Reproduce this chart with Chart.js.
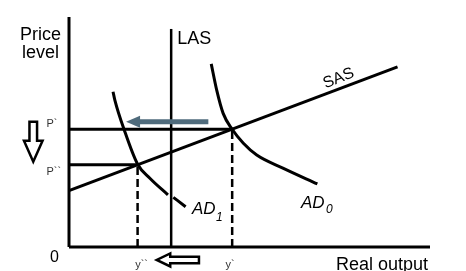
<!DOCTYPE html>
<html>
<head>
<meta charset="utf-8">
<script src="https://cdn.jsdelivr.net/npm/chart.js@4/dist/chart.umd.min.js"></script>
<style>
  body { margin: 0; background: #fff; }
  canvas { display: block; }
</style>
</head>
<body>
<canvas id="grafico" width="466" height="271"></canvas>
<script>
// plot extent (arbitrary units)
const xMax = 100;
const yMax = 100;

// long run supply
const lasX = 28.3;
const lasTop = 94.8;

// equilibria: y` / P` before, y`` / P`` after the shift
const yOne = 45.2, pOne = 51.2;
const yTwo = 19.0, pTwo = 35.8;

// short run supply
const sasX = [0, 91];
const sasY = [24.5, 78.3];

// aggregate demand curves (AD1 is broken where it crosses LAS)
const ad0X = [39.4, 40.9, 42.7, 45.2, 48.3, 52.0, 59.4, 68.8];
const ad0Y = [79.6, 68.3, 58.1, 51.2, 45.1, 40.0, 34.2, 27.4];
const ad1X = [12.2, 12.7, 15.3, 19.0, 22.4, 27.4, null, 28.9, 32.3];
const ad1Y = [67.5, 63.9, 50.9, 36.0, 29.9, 22.7, null, 21.6, 17.5];

// arrows: demand shift, price fall, output fall
const shiftArrow = { x: [38.6, 15.8], y: [54.5, 54.5] };
const priceArrow = { x: [-9.9, -9.9], y: [54.5, 37.1] };
const outputArrow = { x: [36.0, 24.3], y: [-5.65, -5.65] };

function zip(xs, ys) {
  return xs.map((x, i) => (x === null ? { x: null, y: null } : { x: x, y: ys[i] }));
}

function linha(pontos, extra) {
  return Object.assign({
    data: pontos,
    showLine: true,
    borderColor: "#000",
    borderWidth: 3,
    pointRadius: 0,
    fill: false,
    clip: false,
    spanGaps: false,
    tension: 0
  }, extra || {});
}

const datasets = [
  linha([{ x: 0, y: 0 }, { x: 0, y: yMax }]),
  linha([{ x: 0, y: 0 }, { x: xMax, y: 0 }]),
  linha([{ x: lasX, y: 0 }, { x: lasX, y: lasTop }], { borderWidth: 2.5 }),
  linha([{ x: 0, y: pOne }, { x: yOne, y: pOne }]),
  linha([{ x: 0, y: pTwo }, { x: yTwo, y: pTwo }]),
  linha([{ x: yOne, y: 0 }, { x: yOne, y: pOne }], { borderDash: [8, 4], borderWidth: 2.5 }),
  linha([{ x: yTwo, y: 0 }, { x: yTwo, y: pTwo }], { borderDash: [8, 4], borderWidth: 2.5 }),
  linha(zip(sasX, sasY)),
  linha(zip(ad0X, ad0Y), { cubicInterpolationMode: "monotone" }),
  linha(zip(ad1X, ad1Y), { cubicInterpolationMode: "monotone" })
];

function setaVazada(ctx, sx, sy, tx, ty, meia, cabeca, comp) {
  const dx = tx - sx, dy = ty - sy;
  const len = Math.hypot(dx, dy);
  const ux = dx / len, uy = dy / len;
  const nx = -uy, ny = ux;
  const bx = tx - ux * comp, by = ty - uy * comp;
  ctx.beginPath();
  ctx.moveTo(sx + nx * meia, sy + ny * meia);
  ctx.lineTo(bx + nx * meia, by + ny * meia);
  ctx.lineTo(bx + nx * cabeca, by + ny * cabeca);
  ctx.lineTo(tx, ty);
  ctx.lineTo(bx - nx * cabeca, by - ny * cabeca);
  ctx.lineTo(bx - nx * meia, by - ny * meia);
  ctx.lineTo(sx - nx * meia, sy - ny * meia);
  ctx.closePath();
  ctx.fillStyle = "#fff";
  ctx.fill();
  ctx.lineWidth = 2.5;
  ctx.strokeStyle = "#000";
  ctx.stroke();
}

const desenhos = {
  id: "desenhos",
  afterDatasetsDraw(chart) {
    const ctx = chart.ctx;
    const xs = chart.scales.x, ys = chart.scales.y;
    const px = v => xs.getPixelForValue(v);
    const py = v => ys.getPixelForValue(v);
    ctx.save();

    // blue shift arrow
    const sx = px(shiftArrow.x[0]), tx = px(shiftArrow.x[1]), ay = py(shiftArrow.y[0]);
    ctx.strokeStyle = "#4f6b7c";
    ctx.fillStyle = "#4f6b7c";
    ctx.lineWidth = 5;
    ctx.beginPath();
    ctx.moveTo(sx, ay);
    ctx.lineTo(tx + 12, ay);
    ctx.stroke();
    ctx.beginPath();
    ctx.moveTo(tx, ay);
    ctx.lineTo(tx + 14, ay - 6);
    ctx.lineTo(tx + 14, ay + 6);
    ctx.closePath();
    ctx.fill();

    setaVazada(ctx, px(priceArrow.x[0]), py(priceArrow.y[0]), px(priceArrow.x[1]), py(priceArrow.y[1]), 3.8, 9.3, 21);
    setaVazada(ctx, px(outputArrow.x[0]), py(outputArrow.y[0]), px(outputArrow.x[1]), py(outputArrow.y[1]), 3.3, 6.5, 13.5);

    // texts
    ctx.fillStyle = "#000";
    ctx.textBaseline = "alphabetic";
    ctx.font = "18px 'Liberation Sans', Arial, sans-serif";
    ctx.textAlign = "center";
    ctx.fillText("Price", 40.5, 40);
    ctx.fillText("level", 40.5, 58);
    ctx.textAlign = "left";
    ctx.fillText("LAS", px(lasX) + 6, 44);
    ctx.fillText("Real output", 336, 269.5);
    ctx.font = "16px 'Liberation Sans', Arial, sans-serif";
    ctx.fillText("0", 50, 261.5);

    ctx.save();
    ctx.translate(338, 77);
    ctx.rotate(-22 * Math.PI / 180);
    ctx.textAlign = "center";
    ctx.font = "16px 'Liberation Sans', Arial, sans-serif";
    ctx.fillText("SAS", 0, 6);
    ctx.restore();

    ctx.font = "italic 17px 'Liberation Sans', Arial, sans-serif";
    ctx.fillText("AD", 301, 208);
    ctx.fillText("AD", 192, 214);
    ctx.font = "italic 12px 'Liberation Sans', Arial, sans-serif";
    ctx.fillText("0", 326, 213);
    ctx.fillText("1", 216, 220.5);

    ctx.fillStyle = "#333";
    ctx.font = "11px 'Liberation Sans', Arial, sans-serif";
    ctx.fillText("P`", 46.5, py(pOne) - 2.5);
    ctx.fillText("P``", 46.5, py(pTwo) + 10.5);
    ctx.textAlign = "center";
    ctx.fillText("y``", px(yTwo) + 4, 268);
    ctx.fillText("y`", px(yOne) - 2, 268);

    ctx.restore();
  }
};

new Chart(document.getElementById("grafico").getContext("2d"), {
  type: "scatter",
  data: { datasets: datasets },
  options: {
    responsive: false,
    animation: false,
    layout: { padding: { left: 69, right: 36, top: 17, bottom: 24 } },
    plugins: { legend: { display: false }, tooltip: { enabled: false } },
    scales: {
      x: { type: "linear", min: 0, max: xMax, display: false },
      y: { type: "linear", min: 0, max: yMax, display: false }
    }
  },
  plugins: [desenhos]
});
</script>
</body>
</html>
